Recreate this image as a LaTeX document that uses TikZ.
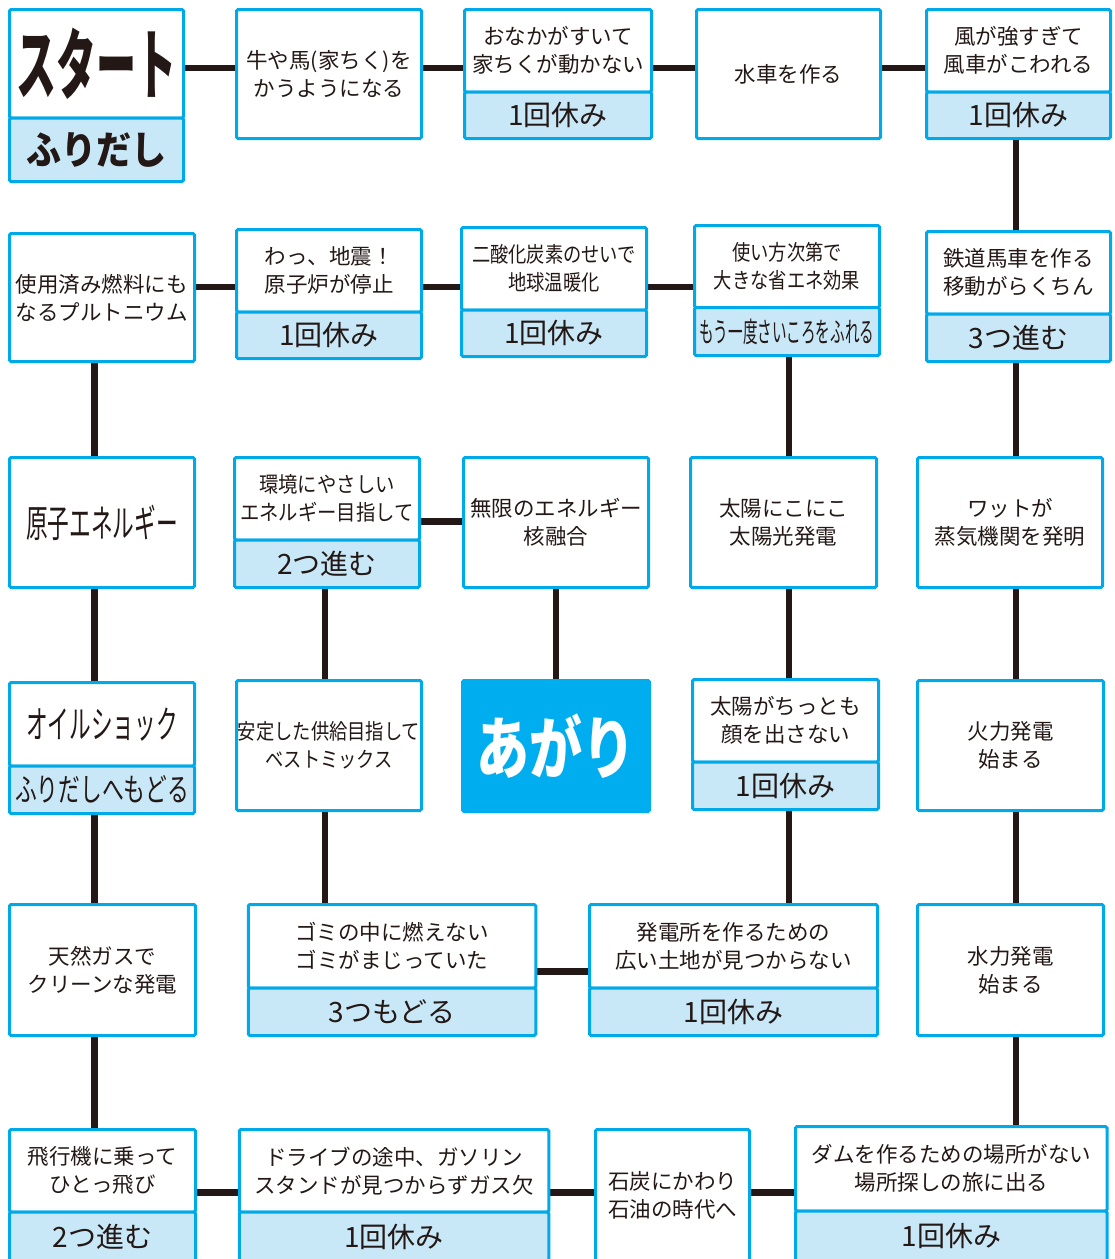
\documentclass[tikz,border=0pt]{standalone}
\usepackage{fontspec}
\setmainfont{Noto Sans CJK JP}
\newfontfamily\startFont{Noto Sans CJK JP}[FakeStretch=0.52]
\newfontfamily\goalFont{Noto Sans CJK JP}[FakeStretch=0.78]
\newfontfamily\tallFont{Noto Sans CJK JP}[FakeStretch=0.57]
\newfontfamily\backFont{Noto Sans CJK JP}[FakeStretch=0.68]
\newfontfamily\rollFont{Noto Sans CJK JP}[FakeStretch=0.52]
\newfontfamily\slimFont{Noto Sans CJK JP}[FakeStretch=0.85]
\newfontfamily\narrowFont{Noto Sans CJK JP}[FakeStretch=0.9]
\usetikzlibrary{positioning}
\pgfdeclarelayer{back}
\pgfsetlayers{back,main}
\definecolor{cellBlue}{HTML}{00AAE8}
\definecolor{tagBlue}{HTML}{C8E8F8}
\definecolor{goalBlue}{HTML}{00AEEF}
\definecolor{ink}{HTML}{231815}
\tikzstyle{cell} = [rectangle, draw=cellBlue, line width=3pt, fill=white, rounded corners=1.5pt, inner sep=0pt, outer sep=0pt, align=center, text=ink, minimum width=185pt, minimum height=129pt, font=\fontsize{21.5}{28}\selectfont]
\tikzstyle{cellTop} = [cell, minimum height=82.5pt]
\tikzstyle{cellTag} = [cell, fill=tagBlue, minimum height=46.5pt, font=\fontsize{28}{30}\selectfont]
\tikzstyle{goal} = [cell, fill=goalBlue, draw=goalBlue, text=white, minimum width=187pt, minimum height=131pt, font=\goalFont\bfseries\fontsize{68}{70}\selectfont]
\tikzstyle{link} = [line width=6.5pt, draw=ink]

\begin{document}
\begin{tikzpicture}[x=1pt, y=-1pt]

    \useasboundingbox (0,0) rectangle (1115,1259);

    \node (start) [cellTop, minimum width=174pt, minimum height=108.5pt, font=\startFont\bfseries\fontsize{77}{80}\selectfont] at (96.5,63.75) {スタート};
    \node (startTag) [cellTag, below=0pt of start, minimum width=174pt, minimum height=63.5pt, font=\narrowFont\bfseries\fontsize{39}{40}\selectfont] {ふりだし};
    \node (cattle) [cell] at (329,74) {牛や馬(家ちく)を\\かうようになる};
    \node (hungry) [cellTop, minimum width=187pt] at (558,50.75) {おなかがすいて\\家ちくが動かない};
    \node (hungryTag) [cellTag, below=0pt of hungry, minimum width=187pt] {1回休み};
    \node (waterWheel) [cell, minimum width=184pt] at (788.5,74) {水車を作る};
    \node (windBreak) [cellTop, minimum width=184pt] at (1018.5,50.75) {風が強すぎて\\風車がこわれる};
    \node (windBreakTag) [cellTag, below=0pt of windBreak, minimum width=184pt] {1回休み};

    \node (plutonium) [cell, minimum height=128pt] at (102,297.5) {使用済み燃料にも\\なるプルトニウム};
    \node (quake) [cellTop] at (329,270.75) {わっ、地震！\\原子炉が停止};
    \node (quakeTag) [cellTag, below=0pt of quake] {1回休み};
    \node (carbon) [cellTop, font=\slimFont\fontsize{21.5}{28}\selectfont] at (554,268.75) {二酸化炭素のせいで\\地球温暖化};
    \node (carbonTag) [cellTag, below=0pt of carbon] {1回休み};
    \node (saving) [cellTop, minimum height=82pt, font=\slimFont\fontsize{21.5}{28}\selectfont] at (787,266.5) {使い方次第で\\大きな省エネ効果};
    \node (savingTag) [cellTag, below=0pt of saving, minimum height=48pt, font=\rollFont\fontsize{28}{30}\selectfont] {もう一度さいころをふれる};
    \node (railway) [cellTop, minimum width=184pt] at (1018.5,272.75) {鉄道馬車を作る\\移動がらくちん};
    \node (railwayTag) [cellTag, below=0pt of railway, minimum width=184pt, minimum height=47.5pt] {3つ進む};

    \node (nuclear) [cell, minimum height=130pt, font=\tallFont\fontsize{38}{40}\selectfont] at (102,522.5) {原子エネルギー};
    \node (ecoEnergy) [cellTop, font=\narrowFont\fontsize{21.5}{28}\selectfont] at (327,498.75) {環境にやさしい\\エネルギー目指して};
    \node (ecoEnergyTag) [cellTag, below=0pt of ecoEnergy, minimum height=47.5pt] {2つ進む};
    \node (fusion) [cell, minimum height=130pt] at (556,522.5) {無限のエネルギー\\核融合};
    \node (solar) [cell, minimum width=186pt, minimum height=130pt] at (783.5,522.5) {太陽にこにこ\\太陽光発電};
    \node (watt) [cell, minimum height=130pt] at (1010,522.5) {ワットが\\蒸気機関を発明};

    \node (oilShock) [cellTop, minimum height=83.5pt, font=\tallFont\fontsize{38}{40}\selectfont] at (102,724.25) {オイルショック};
    \node (oilShockTag) [cellTag, below=0pt of oilShock, minimum height=47.5pt, font=\backFont\fontsize{32}{34}\selectfont] {ふりだしへもどる};
    \node (bestMix) [cell, minimum height=130pt, font=\slimFont\fontsize{21.5}{28}\selectfont] at (329,745.5) {安定した供給目指して\\ベストミックス};
    \node (finish) [goal] at (556,746) {あがり};
    \node (cloudy) [cellTop, minimum width=186pt] at (785.5,720.75) {太陽がちっとも\\顔を出さない};
    \node (cloudyTag) [cellTag, below=0pt of cloudy, minimum width=186pt, minimum height=47.5pt] {1回休み};
    \node (thermal) [cell, minimum width=186pt, minimum height=130pt] at (1010.5,745.5) {火力発電\\始まる};

    \node (natGas) [cell, minimum width=186pt, minimum height=131pt] at (102.5,970) {天然ガスで\\クリーンな発電};
    \node (garbage) [cellTop, minimum width=287.5pt, minimum height=83.5pt] at (392,946.25) {ゴミの中に燃えない\\ゴミがまじっていた};
    \node (garbageTag) [cellTag, below=0pt of garbage, minimum width=287.5pt, minimum height=47.5pt] {3つもどる};
    \node (noLand) [cellTop, minimum width=288pt, minimum height=83.5pt] at (733.5,946.25) {発電所を作るための\\広い土地が見つからない};
    \node (noLandTag) [cellTag, below=0pt of noLand, minimum width=288pt, minimum height=47.5pt] {1回休み};
    \node (hydro) [cell, minimum width=186pt, minimum height=131pt] at (1010.5,970) {水力発電\\始まる};

    \node (plane) [cellTop, minimum width=186pt] at (102.5,1170.75) {飛行機に乗って\\ひとっ飛び};
    \node (planeTag) [cellTag, below=0pt of plane, minimum width=186pt, minimum height=49pt] {2つ進む};
    \node (gasOut) [cellTop, minimum width=309.5pt] at (394,1170.75) {ドライブの途中、ガソリン\\スタンドが見つからずガス欠};
    \node (gasOutTag) [cellTag, below=0pt of gasOut, minimum width=309.5pt, minimum height=49pt] {1回休み};
    \node (oilAge) [cell, minimum width=154pt, minimum height=131.5pt] at (672.5,1195.25) {石炭にかわり\\石油の時代へ};
    \node (dam) [cellTop, minimum width=311.5pt, minimum height=84.5pt] at (951.3,1168.75) {ダムを作るための場所がない\\場所探しの旅に出る};
    \node (damTag) [cellTag, below=0pt of dam, minimum width=311.5pt, minimum height=50pt] {1回休み};

    \coordinate (rowA) at (0,68);
    \coordinate (rowB) at (0,287);
    \coordinate (rowC) at (0,521.5);
    \coordinate (rowE) at (0,971.5);
    \coordinate (rowF) at (0,1192.5);
    \coordinate (colA) at (94.5,0);
    \coordinate (colB) at (325,0);
    \coordinate (colC) at (556,0);
    \coordinate (colD) at (789,0);
    \coordinate (colE) at (1016,0);

    \begin{pgfonlayer}{back}
    \fill[white] (0,0) rectangle (1115,1259);

    \draw[link] (start.east |- rowA) -- (cattle.west |- rowA);
    \draw[link] (cattle.east |- rowA) -- (hungry.west |- rowA);
    \draw[link] (hungry.east |- rowA) -- (waterWheel.west |- rowA);
    \draw[link] (waterWheel.east |- rowA) -- (windBreak.west |- rowA);

    \draw[link] (windBreakTag.south -| colE) -- (railway.north -| colE);
    \draw[link] (railwayTag.south -| colE) -- (watt.north -| colE);
    \draw[link] (watt.south -| colE) -- (thermal.north -| colE);
    \draw[link] (thermal.south -| colE) -- (hydro.north -| colE);
    \draw[link] (hydro.south -| colE) -- (dam.north -| colE);

    \draw[link] (dam.west |- rowF) -- (oilAge.east |- rowF);
    \draw[link] (oilAge.west |- rowF) -- (gasOut.east |- rowF);
    \draw[link] (gasOut.west |- rowF) -- (plane.east |- rowF);

    \draw[link] (plane.north -| colA) -- (natGas.south -| colA);
    \draw[link] (natGas.north -| colA) -- (oilShockTag.south -| colA);
    \draw[link] (oilShock.north -| colA) -- (nuclear.south -| colA);
    \draw[link] (nuclear.north -| colA) -- (plutonium.south -| colA);

    \draw[link] (plutonium.east |- rowB) -- (quake.west |- rowB);
    \draw[link] (quake.east |- rowB) -- (carbon.west |- rowB);
    \draw[link] (carbon.east |- rowB) -- (saving.west |- rowB);

    \draw[link] (savingTag.south -| colD) -- (solar.north -| colD);
    \draw[link] (solar.south -| colD) -- (cloudy.north -| colD);
    \draw[link] (cloudyTag.south -| colD) -- (noLand.north -| colD);

    \draw[link] (noLand.west |- rowE) -- (garbage.east |- rowE);
    \draw[link] (garbage.north -| colB) -- (bestMix.south -| colB);
    \draw[link] (bestMix.north -| colB) -- (ecoEnergyTag.south -| colB);
    \draw[link] (ecoEnergy.east |- rowC) -- (fusion.west |- rowC);
    \draw[link] (fusion.south -| colC) -- (finish.north -| colC);
    \end{pgfonlayer}

\end{tikzpicture}
\end{document}
